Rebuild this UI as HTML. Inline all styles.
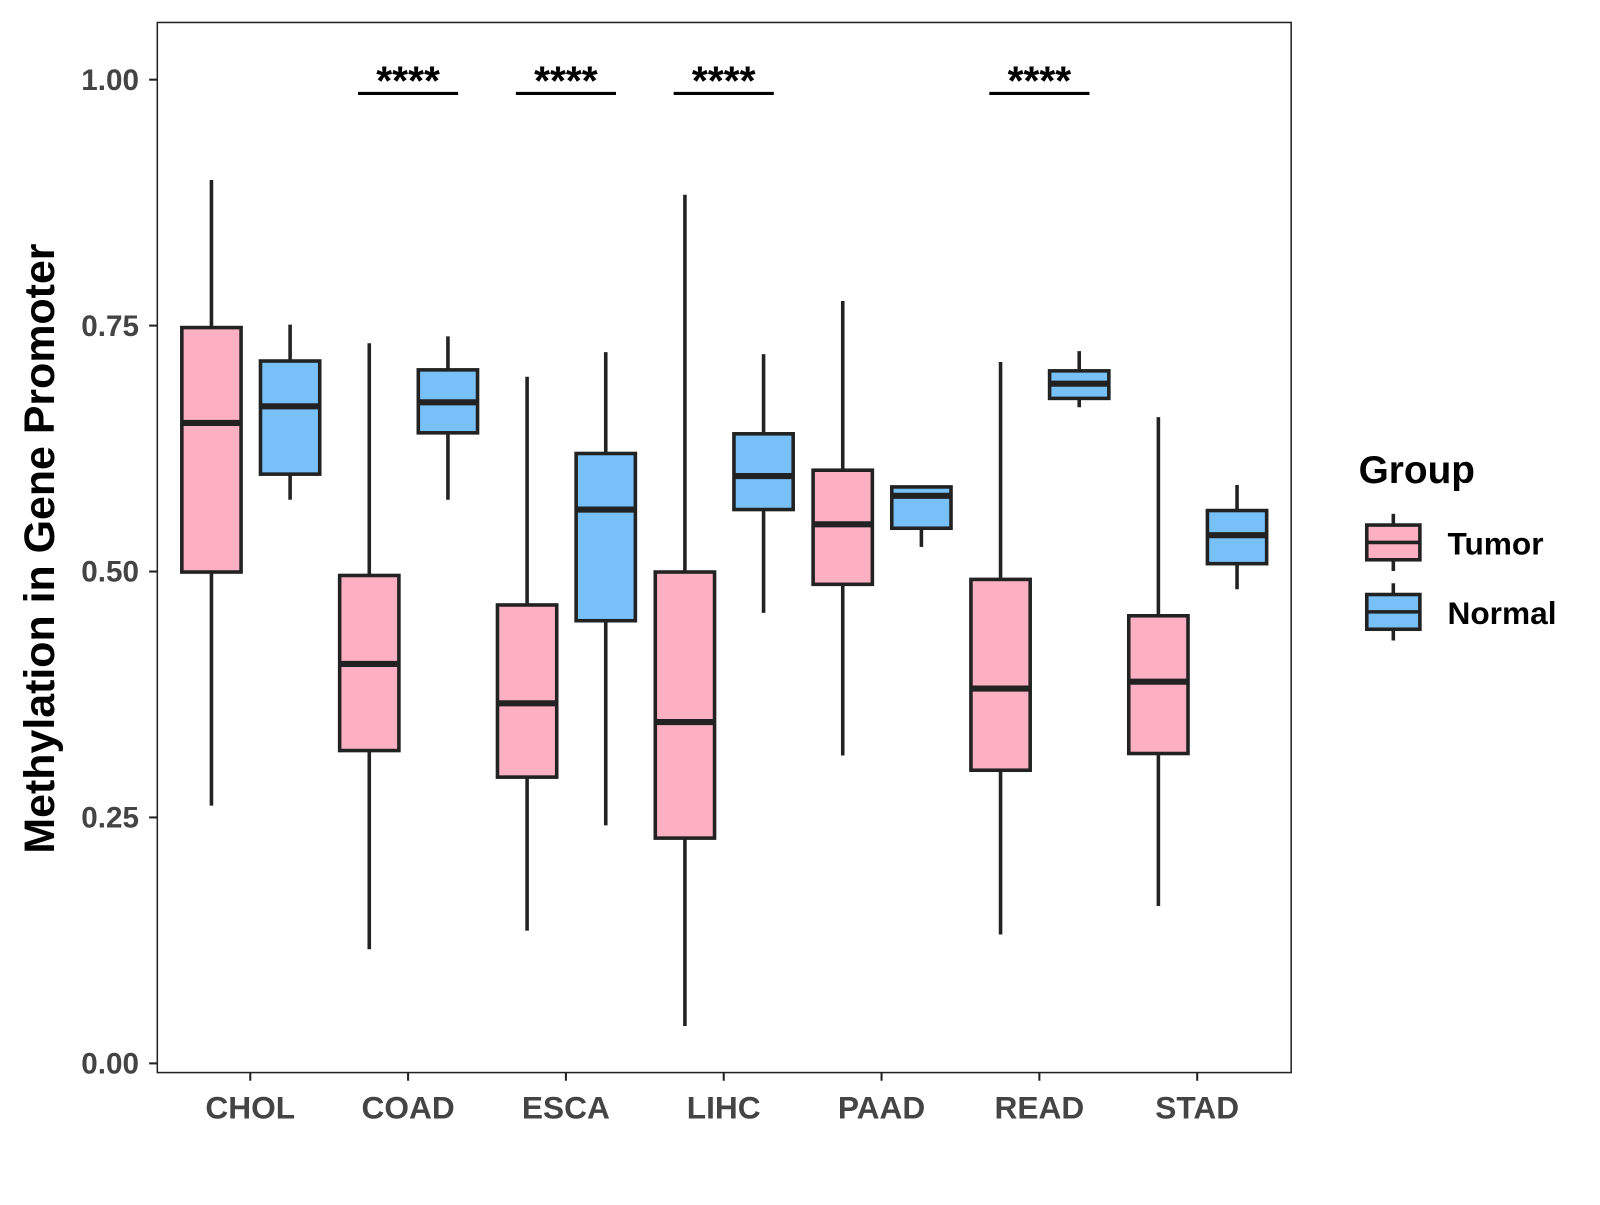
<!DOCTYPE html>
<html><head><meta charset="utf-8"><style>
body{margin:0;background:#fff;width:1600px;height:1200px;overflow:hidden}
svg text{font-family:"Liberation Sans",Arial,sans-serif;font-weight:bold}
</style></head><body>
<svg id="chart" width="1600" height="1200" xmlns="http://www.w3.org/2000/svg">
<g transform="scale(1.0215)">
<rect x="154" y="22" width="1110" height="1028" fill="#fff" stroke="#222" stroke-width="1.5"/>
<g id="yaxis"></g>
<g id="xaxis"></g>
<g id="boxes"></g>
<g id="sig"></g>
<text x="53" y="537" font-size="42" fill="#000" text-anchor="middle" transform="rotate(-90 53 537)">Methylation in Gene Promoter</text>
<g>
<text x="1330" y="473" font-size="38" fill="#000">Group</text>
<g>
<line x1="1364" y1="503" x2="1364" y2="559" stroke="#222" stroke-width="3.5"/>
<rect x="1338" y="514" width="52" height="34" fill="#fcb0c2" stroke="#222" stroke-width="3.5"/>
<line x1="1338" y1="531" x2="1390" y2="531" stroke="#222" stroke-width="3.5"/>
<text x="1417" y="543" font-size="31" fill="#000">Tumor</text></g>
<g>
<line x1="1364" y1="571" x2="1364" y2="627" stroke="#222" stroke-width="3.5"/>
<rect x="1338" y="582" width="52" height="34" fill="#78c1f8" stroke="#222" stroke-width="3.5"/>
<line x1="1338" y1="599" x2="1390" y2="599" stroke="#222" stroke-width="3.5"/>
<text x="1417" y="611" font-size="31" fill="#000">Normal</text></g>
</g>
</g>
</svg>
<script>
const categories=["CHOL","COAD","ESCA","LIHC","PAAD","READ","STAD"];
// [low, q1, median, q3, high]
const tumorStats=[[0.262,0.4995,0.651,0.748,0.898],[0.116,0.318,0.406,0.496,0.732],[0.135,0.291,0.366,0.466,0.698],[0.038,0.229,0.347,0.4995,0.883],[0.313,0.487,0.548,0.603,0.775],[0.131,0.298,0.381,0.492,0.713],[0.160,0.315,0.388,0.455,0.657]];
const normalStats=[[0.573,0.599,0.668,0.714,0.751],[0.573,0.641,0.672,0.705,0.739],[0.242,0.450,0.563,0.620,0.723],[0.458,0.563,0.597,0.640,0.721],[0.525,0.544,0.577,0.586,0.586],[0.667,0.676,0.691,0.704,0.724],[0.482,0.508,0.537,0.562,0.588]];
const yTicks=[0,0.25,0.5,0.75,1.0];
const yTickLabels=["0.00","0.25","0.50","0.75","1.00"];
const sigCategories=["COAD","ESCA","LIHC","READ"];
const sigLabels=["****","****","****","****"];
const sigLevel=0.986;

const NS="http://www.w3.org/2000/svg";
const yS=v=>1041-v*963;
const xS=i=>245+i*154.5;
function mk(tag,attrs,parent,text){const e=document.createElementNS(NS,tag);for(const k in attrs)e.setAttribute(k,attrs[k]);if(text!=null)e.textContent=text;parent.appendChild(e);return e;}
const ya=document.getElementById('yaxis'),xa=document.getElementById('xaxis'),bx=document.getElementById('boxes'),sg=document.getElementById('sig');
yTicks.forEach((v,i)=>{
 const l=mk('line',{x1:146,x2:154,y1:yS(v),y2:yS(v),stroke:'#222','stroke-width':2},ya);
 
 
 const t=mk('text',{x:136,y:yS(v)+10,'font-size':29,fill:'#444','text-anchor':'end'},ya,yTickLabels[i]);
 
 
});
categories.forEach((c,i)=>{
 const x=xS(i);
 const l=mk('line',{x1:x,x2:x,y1:1050,y2:1058,stroke:'#222','stroke-width':2},xa);
 
 
 const t=mk('text',{x:x,y:1095,'font-size':31,fill:'#444','text-anchor':'middle'},xa,c);
 
 
 [[tumorStats[i],-38,'#fcb0c2','tumor'],[normalStats[i],39,'#78c1f8','normal']].forEach(([s,off,fill,nm])=>{
  const cx=x+off,w=58;
  const g=mk('g',{},bx);
  
  
  mk('line',{x1:cx,x2:cx,y1:yS(s[0]),y2:yS(s[4]),stroke:'#222','stroke-width':3.5},g);
  mk('rect',{x:cx-w/2,y:yS(s[3]),width:w,height:yS(s[1])-yS(s[3]),fill:fill,stroke:'#222','stroke-width':3.5},g);
  mk('line',{x1:cx-w/2,x2:cx+w/2,y1:yS(s[2]),y2:yS(s[2]),stroke:'#222','stroke-width':6},g);
 });
});
sigCategories.forEach((c,k)=>{
 const x=xS(categories.indexOf(c));
 const l=mk('line',{x1:x-49,x2:x+49,y1:yS(sigLevel),y2:yS(sigLevel),stroke:'#000','stroke-width':3},sg);
 
 
 const t=mk('text',{x:x,y:yS(sigLevel)+1,'font-size':40,fill:'#000','text-anchor':'middle'},sg,sigLabels[k]);
 
 
});
</script>
</body></html>
